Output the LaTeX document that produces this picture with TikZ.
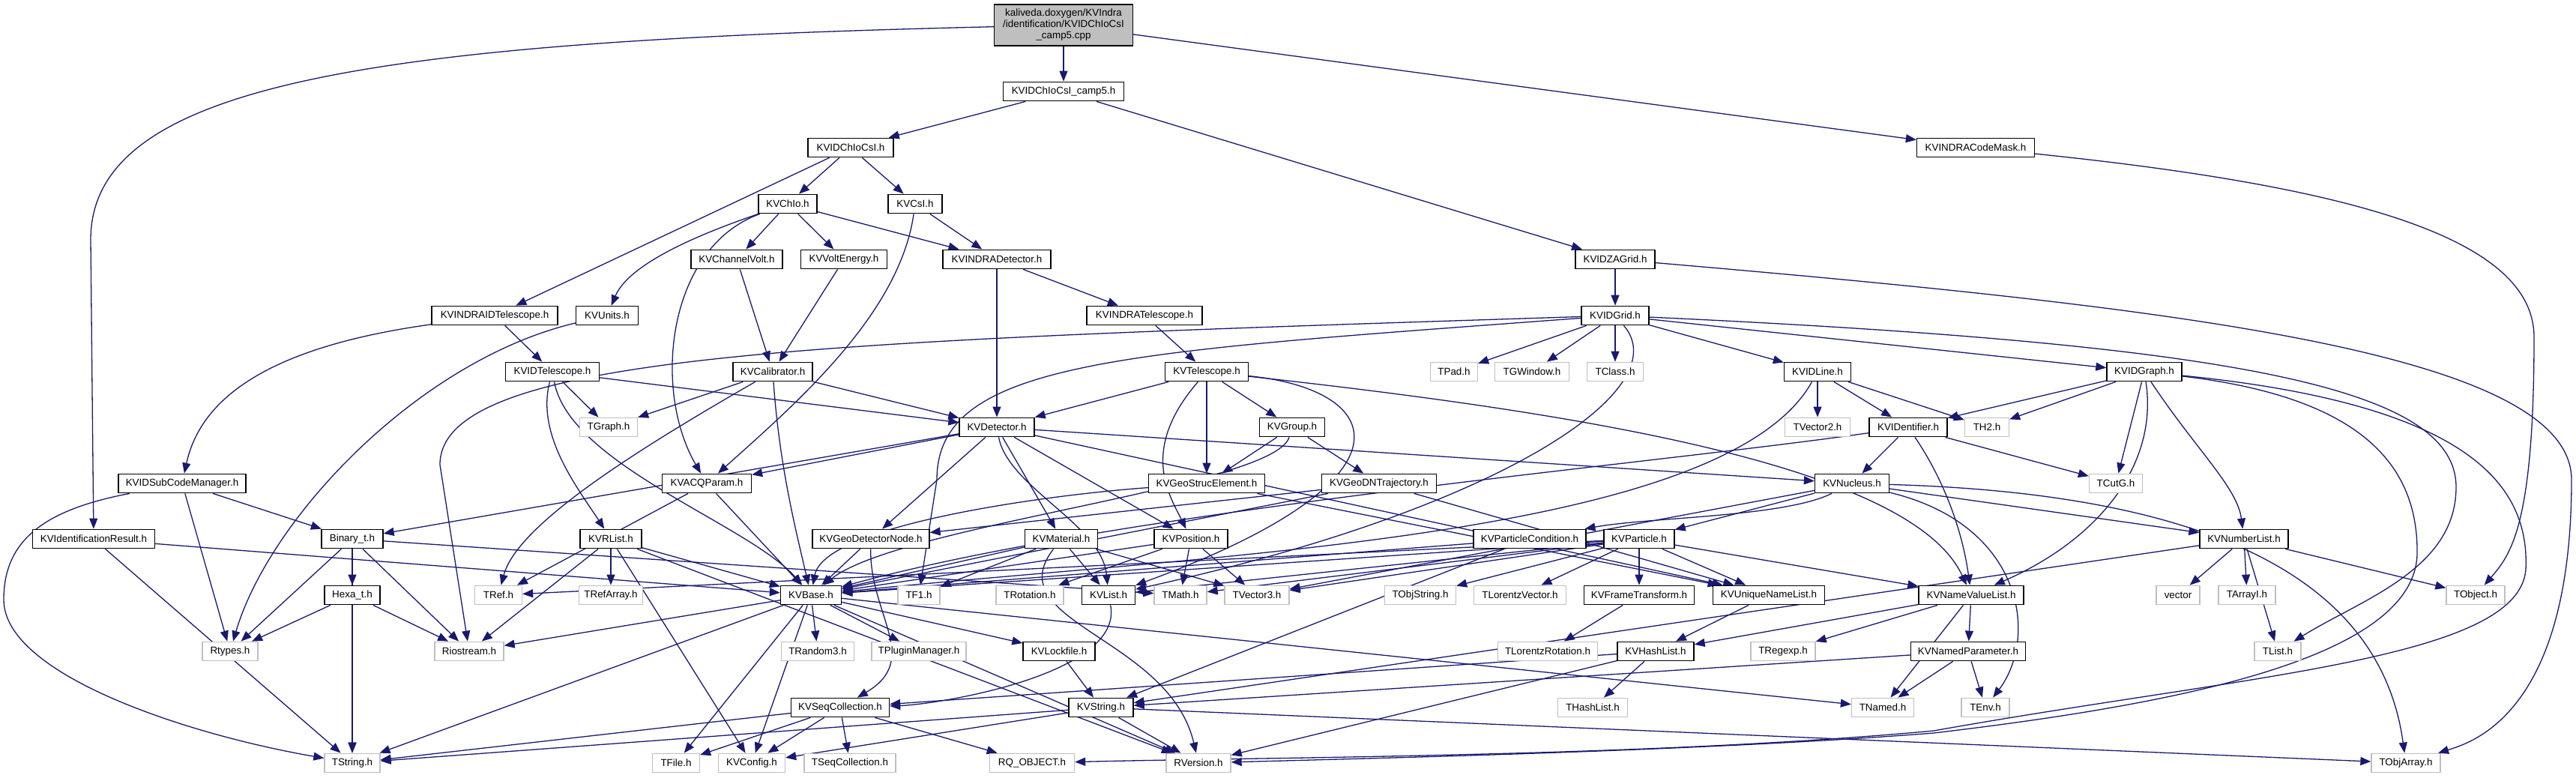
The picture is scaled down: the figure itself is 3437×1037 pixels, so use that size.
\documentclass[tikz,border=0pt]{standalone}
\usepackage{fontspec}
\setmainfont{Liberation Sans}
\usetikzlibrary{arrows.meta}
\definecolor{edgec}{RGB}{25,25,112}
\definecolor{grayb}{RGB}{191,191,191}
\newcommand\Nd[6]{\node[#1,minimum width=#5pt] (#2) at (#3,#4) {#6};}
\pgfdeclarelayer{edgelayer}
\pgfsetlayers{edgelayer,main}
\begin{document}
\begin{tikzpicture}[x=1pt,y=-1pt,
  nb/.style={draw=black,fill=white,line width=1.3pt,minimum height=25.5pt,inner sep=0pt,font=\fontsize{13.4}{15}\selectfont},
  ng/.style={nb,draw=grayb},
  e/.style={draw=edgec,line width=1.3pt,-{Triangle[length=14pt,width=11pt]}}]
\useasboundingbox (0,0) rectangle (3437,1037);
% nodes
\node[nb,fill=grayb,minimum width=185pt,minimum height=55pt,align=center] (root) at (1419,33.5)
  {kaliveda.doxygen/KVIndra\\/identification/KVIDChIoCsI\\\_camp5.cpp};
\Nd{nb}{camp5h}{1419}{122}{161}{KVIDChIoCsI\_camp5.h}
\Nd{nb}{chiocsi}{1135}{197}{114}{KVIDChIoCsI.h}
\Nd{nb}{codemask}{2636}{197}{157}{KVINDRACodeMask.h}
\Nd{nb}{chio}{1051}{272}{78}{KVChIo.h}
\Nd{nb}{csi}{1221}{272}{72}{KVCsI.h}
\Nd{nb}{chvolt}{983}{346}{122}{KVChannelVolt.h}
\Nd{nb}{voltE}{1126}{346}{115}{KVVoltEnergy.h}
\Nd{nb}{indradet}{1330}{346}{144}{KVINDRADetector.h}
\Nd{nb}{zagrid}{2155}{346}{106}{KVIDZAGrid.h}
\Nd{nb}{indraidtel}{660}{421}{168}{KVINDRAIDTelescope.h}
\Nd{nb}{units}{810}{421}{83}{KVUnits.h}
\Nd{nb}{indratel}{1527}{421}{154}{KVINDRATelescope.h}
\Nd{nb}{idgrid}{2155}{421}{90}{KVIDGrid.h}
\Nd{nb}{idtel}{737}{496}{125}{KVIDTelescope.h}
\Nd{nb}{calib}{1031}{496}{106}{KVCalibrator.h}
\Nd{nb}{tel}{1610}{496}{111}{KVTelescope.h}
\Nd{ng}{tpad}{1940}{496}{63}{TPad.h}
\Nd{ng}{tgwin}{2044}{496}{99}{TGWindow.h}
\Nd{ng}{tclass}{2155}{496}{75}{TClass.h}
\Nd{nb}{idline}{2425}{496}{89}{KVIDLine.h}
\Nd{nb}{idgraph}{2861}{496}{100}{KVIDGraph.h}
\Nd{ng}{tgraph}{812}{570}{77}{TGraph.h}
\Nd{nb}{det}{1330}{570}{100}{KVDetector.h}
\Nd{nb}{group}{1724}{570}{87}{KVGroup.h}
\Nd{ng}{tvec2}{2425}{570}{87}{TVector2.h}
\Nd{nb}{identifier}{2546}{570}{104}{KVIDentifier.h}
\Nd{ng}{th2}{2651}{570}{59}{TH2.h}
\Nd{nb}{subcode}{243}{645}{170}{KVIDSubCodeManager.h}
\Nd{nb}{acq}{943}{645}{119}{KVACQParam.h}
\Nd{nb}{geostruc}{1610}{645}{155}{KVGeoStrucElement.h}
\Nd{nb}{geodn}{1840}{645}{153}{KVGeoDNTrajectory.h}
\Nd{nb}{nucleus}{2471}{645}{99}{KVNucleus.h}
\Nd{ng}{tcutg}{2823}{645}{71}{TCutG.h}
\Nd{nb}{idres}{125}{719}{163}{KVIdentificationResult.h}
\Nd{nb}{binary}{470}{719}{82}{Binary\_t.h}
\Nd{nb}{rlist}{815}{719}{82}{KVRList.h}
\Nd{nb}{geodetnode}{1162}{719}{156}{KVGeoDetectorNode.h}
\Nd{nb}{material}{1416}{719}{97}{KVMaterial.h}
\Nd{nb}{position}{1589}{719}{98}{KVPosition.h}
\Nd{nb}{partcond}{2041}{719}{150}{KVParticleCondition.h}
\Nd{nb}{particle}{2187}{719}{94}{KVParticle.h}
\Nd{nb}{numlist}{2994}{719}{118}{KVNumberList.h}
\Nd{nb}{hexa}{470}{794}{74}{Hexa\_t.h}
\Nd{ng}{tref}{665}{794}{63}{TRef.h}
\Nd{ng}{trefarray}{815}{794}{85}{TRefArray.h}
\Nd{nb}{base}{1082}{794}{81}{KVBase.h}
\Nd{ng}{tf1}{1226}{794}{56}{TF1.h}
\Nd{ng}{trotation}{1374}{794}{90}{TRotation.h}
\Nd{nb}{list}{1479}{794}{71}{KVList.h}
\Nd{ng}{tmath}{1575}{794}{70}{TMath.h}
\Nd{ng}{tvec3}{1677}{794}{86}{TVector3.h}
\Nd{ng}{tobjstring}{1895}{794}{95}{TObjString.h}
\Nd{ng}{tlorentzvec}{2028}{794}{123}{TLorentzVector.h}
\Nd{nb}{frametr}{2187}{794}{147}{KVFrameTransform.h}
\Nd{nb}{uniq}{2360}{794}{149}{KVUniqueNameList.h}
\Nd{nb}{nvlist}{2630}{794}{140}{KVNameValueList.h}
\Nd{ng}{vector}{2906}{794}{58}{vector}
\Nd{ng}{tarrayi}{2998}{794}{76}{TArrayI.h}
\Nd{ng}{tobject}{3303}{794}{78}{TObject.h}
\Nd{ng}{rtypes}{307}{869}{74}{Rtypes.h}
\Nd{ng}{riostream}{626}{869}{92}{Riostream.h}
\Nd{ng}{trandom}{1091}{869}{97}{TRandom3.h}
\Nd{ng}{tplugin}{1226}{869}{126}{TPluginManager.h}
\Nd{nb}{lockfile}{1413}{869}{96}{KVLockfile.h}
\Nd{ng}{tlorentzrot}{2065}{869}{133}{TLorentzRotation.h}
\Nd{nb}{hashlist}{2209}{869}{102}{KVHashList.h}
\Nd{ng}{tregexp}{2379}{869}{86}{TRegexp.h}
\Nd{nb}{namedpar}{2626}{869}{153}{KVNamedParameter.h}
\Nd{ng}{tlist}{3039}{869}{62}{TList.h}
\Nd{nb}{seqcoll}{1121}{944}{131}{KVSeqCollection.h}
\Nd{nb}{string}{1469}{944}{86}{KVString.h}
\Nd{ng}{thashlist}{2125}{944}{93}{THashList.h}
\Nd{ng}{tnamed}{2512}{944}{83}{TNamed.h}
\Nd{ng}{tenv}{2649}{944}{64}{TEnv.h}
\Nd{ng}{tstring}{470}{1018}{74}{TString.h}
\Nd{ng}{tfile}{902}{1018}{63}{TFile.h}
\Nd{ng}{kvconfig}{1003}{1018}{89}{KVConfig.h}
\Nd{ng}{tseqcoll}{1134}{1018}{122}{TSeqCollection.h}
\Nd{ng}{rqobject}{1377}{1018}{113}{RQ\_OBJECT.h}
\Nd{ng}{rversion}{1599}{1018}{86}{RVersion.h}
\Nd{ng}{tobjarray}{3210}{1018}{92}{TObjArray.h}
% edges
\begin{pgfonlayer}{edgelayer}
\draw[e] (root) -- (camp5h);
\draw[e] (root) .. controls (500,55) and (121,110) .. (121,320) -- (idres);
\draw[e] (root) -- (codemask);
\draw[e] (camp5h) -- (chiocsi);
\draw[e] (camp5h) -- (zagrid);
\draw[e] (chiocsi) -- (chio);
\draw[e] (chiocsi) -- (csi);
\draw[e] (chiocsi) -- (indraidtel);
\draw[e] (chio) -- (chvolt);
\draw[e] (chio) -- (voltE);
\draw[e] (chio) -- (indradet);
\draw[e] (chio) .. controls (940,310) and (840,350) .. (units);
\draw[e] (chio) .. controls (890,330) and (870,520) .. (acq);
\draw[e] (csi) -- (indradet);
\draw[e] (csi) .. controls (1200,420) and (1060,540) .. (acq);
\draw[e] (chvolt) -- (calib);
\draw[e] (voltE) -- (calib);
\draw[e] (indradet) -- (det);
\draw[e] (indradet) -- (indratel);
\draw[e] (indratel) -- (tel);
\draw[e] (codemask) .. controls (3150,250) and (3381,320) .. (3381,450) .. controls (3381,700) and (3350,740) .. (tobject);
\draw[e] (zagrid) .. controls (2900,410) and (3431,470) .. (3431,640) .. controls (3431,950) and (3300,990) .. (tobjarray);
\draw[e] (zagrid) -- (idgrid);
\draw[e] (indraidtel) -- (idtel);
\draw[e] (indraidtel) .. controls (380,460) and (270,520) .. (subcode);
\draw[e] (units) .. controls (560,480) and (360,690) .. (rtypes);
\draw[e] (idgrid) -- (tpad);
\draw[e] (idgrid) -- (tgwin);
\draw[e] (idgrid) -- (tclass);
\draw[e] (idgrid) -- (idline);
\draw[e] (idgrid) -- (idgraph);
\draw[e] (idgrid) .. controls (1100,455) and (587,470) .. (587,620) -- (riostream);
\draw[e] (idgrid) .. controls (1500,470) and (1250,480) .. (1250,640) -- (tf1);
\draw[e] (idgrid) .. controls (3000,460) and (3277,520) .. (3277,650) .. controls (3277,760) and (3150,800) .. (tlist);
\draw[e] (idgrid) .. controls (2240,520) and (2000,680) .. (list);
\draw[e] (idtel) -- (tgraph);
\draw[e] (idtel) -- (det);
\draw[e] (idtel) .. controls (715,580) and (770,650) .. (rlist);
\draw[e] (idtel) .. controls (760,620) and (1000,700) .. (base);
\draw[e] (calib) -- (tgraph);
\draw[e] (calib) -- (det);
\draw[e] (calib) .. controls (850,600) and (690,700) .. (tref);
\draw[e] (calib) .. controls (1040,620) and (1060,700) .. (base);
\draw[e] (tel) -- (det);
\draw[e] (tel) -- (group);
\draw[e] (tel) -- (geostruc);
\draw[e] (tel) .. controls (1520,600) and (1560,660) .. (position);
\draw[e] (tel) .. controls (1850,520) and (1900,640) .. (list);
\draw[e] (tel) .. controls (2100,550) and (2550,620) .. (nvlist);
\draw[e] (idline) -- (tvec2);
\draw[e] (idline) -- (identifier);
\draw[e] (idline) -- (th2);
\draw[e] (idline) .. controls (2300,720) and (1600,740) .. (base);
\draw[e] (idgraph) -- (th2);
\draw[e] (idgraph) -- (identifier);
\draw[e] (idgraph) -- (tcutg);
\draw[e] (idgraph) .. controls (2930,600) and (2985,650) .. (numlist);
\draw[e] (idgraph) .. controls (2880,620) and (2800,720) .. (nvlist);
\draw[e] (idgraph) .. controls (3300,540) and (3375,650) .. (3370,760) .. controls (3360,880) and (3000,900) .. (2580,975) .. controls (2200,1010) and (1700,1010) .. (rqobject);
\draw[e] (idgraph) .. controls (3150,530) and (3227,620) .. (3225,740) .. controls (3220,880) and (2900,940) .. (2580,978) .. controls (2300,1000) and (1900,1010) .. (rversion);
\draw[e] (identifier) -- (tcutg);
\draw[e] (identifier) -- (nucleus);
\draw[e] (identifier) .. controls (2200,620) and (1500,680) .. (base);
\draw[e] (identifier) .. controls (2600,650) and (2620,720) .. (nvlist);
\draw[e] (det) -- (acq);
\draw[e] (det) -- (binary);
\draw[e] (det) -- (geodetnode);
\draw[e] (det) -- (material);
\draw[e] (det) -- (position);
\draw[e] (det) .. controls (1345,650) and (1470,700) .. (list);
\draw[e] (det) -- (nucleus);
\draw[e] (det) -- (uniq);
\draw[e] (group) -- (geostruc);
\draw[e] (group) -- (geodn);
\draw[e] (group) .. controls (1700,650) and (1200,700) .. (base);
\draw[e] (geostruc) .. controls (1400,660) and (1100,700) .. (base);
\draw[e] (geostruc) -- (uniq);
\draw[e] (geodn) -- (geodetnode);
\draw[e] (geodn) -- (uniq);
\draw[e] (geodn) -- (base);
\draw[e] (geodetnode) -- (base);
\draw[e] (geodetnode) .. controls (1160,820) and (1230,880) .. (seqcoll);
\draw[e] (material) -- (base);
\draw[e] (material) -- (list);
\draw[e] (material) -- (tf1);
\draw[e] (material) -- (tvec3);
\draw[e] (material) .. controls (1330,830) and (1560,850) .. (rversion);
\draw[e] (position) -- (trotation);
\draw[e] (position) -- (tmath);
\draw[e] (position) -- (tvec3);
\draw[e] (position) -- (base);
\draw[e] (partcond) -- (base);
\draw[e] (partcond) -- (string);
\draw[e] (particle) -- (tobjstring);
\draw[e] (particle) -- (tlorentzvec);
\draw[e] (particle) -- (frametr);
\draw[e] (particle) -- (uniq);
\draw[e] (particle) -- (nvlist);
\draw[e] (particle) -- (base);
\draw[e] (particle) -- (tvec3);
\draw[e] (particle) -- (tmath);
\draw[e] (particle) -- (tref);
\draw[e] (particle) -- (list);
\draw[e] (frametr) -- (tlorentzrot);
\draw[e] (uniq) -- (hashlist);
\draw[e] (nvlist) -- (hashlist);
\draw[e] (nvlist) -- (tregexp);
\draw[e] (nvlist) -- (namedpar);
\draw[e] (nvlist) -- (tnamed);
\draw[e] (namedpar) -- (tnamed);
\draw[e] (namedpar) -- (tenv);
\draw[e] (namedpar) -- (string);
\draw[e] (nucleus) -- (particle);
\draw[e] (nucleus) .. controls (2380,690) and (2200,690) .. (partcond);
\draw[e] (nucleus) -- (numlist);
\draw[e] (nucleus) .. controls (2700,700) and (2720,850) .. (tenv);
\draw[e] (nucleus) -- (tvec3);
\draw[e] (nucleus) .. controls (3000,660) and (3180,800) .. (tobjarray);
\draw[e] (numlist) -- (vector);
\draw[e] (numlist) -- (tarrayi);
\draw[e] (numlist) -- (tlist);
\draw[e] (numlist) -- (tobject);
\draw[e] (numlist) -- (string);
\draw[e] (hashlist) -- (thashlist);
\draw[e] (hashlist) -- (seqcoll);
\draw[e] (hashlist) -- (rversion);
\draw[e] (rlist) -- (trefarray);
\draw[e] (rlist) -- (base);
\draw[e] (rlist) -- (riostream);
\draw[e] (rlist) -- (kvconfig);
\draw[e] (rlist) -- (rversion);
\draw[e] (binary) -- (hexa);
\draw[e] (binary) -- (rtypes);
\draw[e] (binary) -- (riostream);
\draw[e] (binary) -- (tstring);
\draw[e] (binary) -- (tmath);
\draw[e] (hexa) -- (rtypes);
\draw[e] (hexa) -- (riostream);
\draw[e] (hexa) -- (tstring);
\draw[e] (subcode) -- (binary);
\draw[e] (subcode) -- (rtypes);
\draw[e] (subcode) .. controls (60,680) and (5,720) .. (5,800) .. controls (5,900) and (250,980) .. (tstring);
\draw[e] (idres) -- (base);
\draw[e] (idres) -- (tstring);
\draw[e] (acq) -- (base);
\draw[e] (acq) -- (tref);
\draw[e] (base) -- (trandom);
\draw[e] (base) -- (tplugin);
\draw[e] (base) -- (lockfile);
\draw[e] (base) -- (tfile);
\draw[e] (base) -- (kvconfig);
\draw[e] (base) -- (tstring);
\draw[e] (base) -- (riostream);
\draw[e] (base) -- (rversion);
\draw[e] (base) -- (tnamed);
\draw[e] (lockfile) -- (string);
\draw[e] (list) .. controls (1500,900) and (1250,940) .. (seqcoll);
\draw[e] (seqcoll) -- (tfile);
\draw[e] (seqcoll) -- (kvconfig);
\draw[e] (seqcoll) -- (tseqcoll);
\draw[e] (seqcoll) -- (rqobject);
\draw[e] (seqcoll) -- (tstring);
\draw[e] (string) -- (kvconfig);
\draw[e] (string) -- (rversion);
\draw[e] (string) -- (tstring);
\draw[e] (string) -- (tobjarray);
\end{pgfonlayer}
\end{tikzpicture}
\end{document}
